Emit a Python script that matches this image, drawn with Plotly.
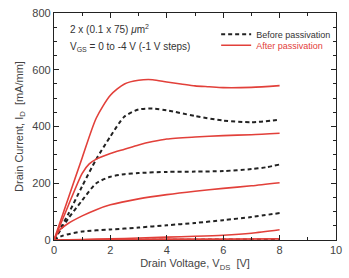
import plotly.graph_objects as go

# Drain voltage samples (V) and drain currents (mA/mm)
after_vgs0_v = [0, 0.5, 1.0, 1.5, 2.0, 2.5, 3.0, 3.5, 4.0, 4.5, 5.0, 5.5, 6.0, 7.0, 8.0]
after_vgs0_i = [0, 145, 290, 430, 510, 550, 563, 565, 557, 550, 543, 540, 537, 538, 544]

after_vgs1_v = [0, 0.5, 1.0, 1.25, 1.5, 2.0, 2.5, 3.0, 3.5, 4.0, 5.0, 6.0, 7.0, 8.0]
after_vgs1_i = [0, 120, 235, 268, 285, 305, 320, 335, 347, 356, 363, 368, 371, 376]

after_vgs2_v = [0, 0.2, 0.5, 1.0, 1.5, 2.0, 3.0, 4.0, 5.0, 6.0, 7.0, 8.0]
after_vgs2_i = [0, 35, 58, 85, 107, 124, 145, 160, 172, 182, 191, 202]

after_vgs3_v = [0, 1, 2, 3, 4, 5, 6, 7, 8]
after_vgs3_i = [0, 2, 4, 7, 10, 13, 17, 24, 36]

after_vgs4_v = [0, 2, 4, 6, 8]
after_vgs4_i = [0, 2, 3, 3, 4]

before_vgs0_v = [0, 0.5, 1.0, 1.5, 2.0, 2.5, 3.0, 3.5, 4.0, 5.0, 6.0, 7.0, 8.0]
before_vgs0_i = [0, 90, 190, 285, 365, 435, 460, 463, 457, 437, 421, 415, 424]

before_vgs1_v = [0, 0.5, 1.0, 1.5, 2.0, 2.5, 3.0, 4.0, 5.0, 6.0, 7.0, 7.5, 8.0]
before_vgs1_i = [0, 75, 140, 200, 223, 232, 236, 240, 241, 243, 250, 256, 266]

before_vgs2_v = [0, 0.3, 1.0, 2.0, 3.0, 4.0, 5.0, 6.0, 7.0, 8.0]
before_vgs2_i = [0, 15, 30, 37, 44, 52, 60, 70, 81, 95]

before_vgs3_v = [0, 4, 8]
before_vgs3_i = [0, 1, 2]

x_ticks = [0, 2, 4, 6, 8, 10]
y_ticks = [0, 200, 400, 600, 800]

RED = "#e2403a"
BLACK = "#222222"

after = [(after_vgs0_v, after_vgs0_i), (after_vgs1_v, after_vgs1_i), (after_vgs2_v, after_vgs2_i),
         (after_vgs3_v, after_vgs3_i), (after_vgs4_v, after_vgs4_i)]
before = [(before_vgs0_v, before_vgs0_i), (before_vgs1_v, before_vgs1_i),
          (before_vgs2_v, before_vgs2_i), (before_vgs3_v, before_vgs3_i)]

fig = go.Figure()
for k, (v, i) in enumerate(before):
    fig.add_trace(go.Scatter(x=v, y=i, mode="lines",
                             line=dict(color=BLACK, width=2, dash="4px,3px", shape="spline", smoothing=0.7),
                             name="Before passivation", showlegend=(k == 0), legend="legend"))
for k, (v, i) in enumerate(after):
    fig.add_trace(go.Scatter(x=v, y=i, mode="lines",
                             line=dict(color=RED, width=1.6, shape="spline", smoothing=0.7),
                             name="<span style='color:%s'>After passivation</span>" % RED,
                             showlegend=(k == 0), legend="legend2"))

axis_common = dict(showline=True, linecolor="#222", linewidth=1.2, mirror="allticks",
                   ticks="inside", ticklen=5, tickcolor="#222", showgrid=False, zeroline=False,
                   tickfont=dict(size=11, color="#444"))

legend_common = dict(xanchor="left", yanchor="top", bgcolor="rgba(0,0,0,0)",
                     font=dict(size=9, color="#333"), itemwidth=30)

fig.update_layout(
    width=349, height=278,
    margin=dict(l=54, r=7, t=12, b=38),
    paper_bgcolor="white", plot_bgcolor="white",
    font=dict(family="Liberation Sans, Arial, sans-serif", color="#444", size=10),
    showlegend=True,
    legend=dict(x=0.575, y=0.97, **legend_common),
    legend2=dict(x=0.575, y=0.922, **legend_common),
    xaxis=dict(range=[0, 10], tickvals=x_ticks, ticktext=[str(t) for t in x_ticks],
               minor=dict(dtick=1, ticks="inside", ticklen=3, tickcolor="#222"),
               title=dict(text="Drain Voltage, V<sub>DS</sub>  [V]", font=dict(size=11, color="#444"), standoff=4),
               **axis_common),
    yaxis=dict(range=[0, 800], tickvals=y_ticks, ticktext=[str(t) for t in y_ticks],
               minor=dict(dtick=50, ticks="inside", ticklen=3, tickcolor="#222"),
               title=dict(text="Drain Current, I<sub>D</sub>  [mA/mm]", font=dict(size=11, color="#444"), standoff=6),
               **axis_common),
    annotations=[
        dict(x=0.05, y=0.965, xref="paper", yref="paper", xanchor="left", yanchor="top", showarrow=False,
             text="2 x (0.1 x 75) <i>μ</i>m<sup>2</sup>", font=dict(size=10, color="#333")),
        dict(x=0.05, y=0.885, xref="paper", yref="paper", xanchor="left", yanchor="top", showarrow=False,
             text="V<sub>GS</sub> = 0 to -4 V (-1 V steps)", font=dict(size=10, color="#333")),
    ],
)

fig.write_html("out.html")
